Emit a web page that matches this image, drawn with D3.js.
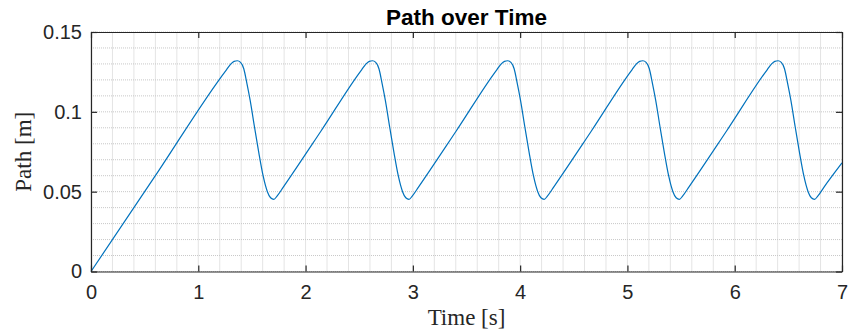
<!DOCTYPE html>
<html>
<head>
<meta charset="utf-8">
<script src="https://cdn.jsdelivr.net/npm/d3@7"></script>
<style>
body{margin:0;background:#fff;}
</style>
</head>
<body>
<svg id="chart" width="863" height="332"></svg>
<script>
// Data
const titleText = "Path over Time";
const xLabel = "Time [s]";
const yLabel = "Path [m]";
const xTicks = [0,1,2,3,4,5,6,7];
const yTicks = [0,0.05,0.1,0.15];
const yTickLabels = ["0","0.05","0.1","0.15"];

const timeS = [
  0,0.600,
  1.264,1.304,1.334,1.364,1.394,1.424,1.454,1.484,1.524,1.564,1.604,1.644,1.674,1.704,1.734,1.794,2.144,
  2.524,2.564,2.594,2.624,2.654,2.684,2.714,2.744,2.784,2.824,2.864,2.904,2.934,2.964,2.994,3.054,3.404,
  3.784,3.824,3.854,3.884,3.914,3.944,3.974,4.004,4.044,4.084,4.124,4.164,4.194,4.224,4.254,4.314,4.664,
  5.044,5.084,5.114,5.144,5.174,5.204,5.234,5.264,5.304,5.344,5.384,5.424,5.454,5.484,5.514,5.574,5.924,
  6.304,6.344,6.374,6.404,6.434,6.464,6.494,6.524,6.564,6.604,6.644,6.684,6.714,6.744,6.774,6.834,
  7.0
];
const pathM = [
  0,0.0600,
  0.1265,0.1300,0.1316,0.1320,0.1310,0.1270,0.1175,0.1070,0.0905,0.0745,0.0600,0.0500,0.0462,0.0452,0.0472,0.0530,0.0880,
  0.1265,0.1300,0.1316,0.1320,0.1310,0.1270,0.1175,0.1070,0.0905,0.0745,0.0600,0.0500,0.0462,0.0452,0.0472,0.0530,0.0880,
  0.1265,0.1300,0.1316,0.1320,0.1310,0.1270,0.1175,0.1070,0.0905,0.0745,0.0600,0.0500,0.0462,0.0452,0.0472,0.0530,0.0880,
  0.1265,0.1300,0.1316,0.1320,0.1310,0.1270,0.1175,0.1070,0.0905,0.0745,0.0600,0.0500,0.0462,0.0452,0.0472,0.0530,0.0880,
  0.1265,0.1300,0.1316,0.1320,0.1310,0.1270,0.1175,0.1070,0.0905,0.0745,0.0600,0.0500,0.0462,0.0452,0.0472,0.0530,
  0.0680
];

const margin = {left:91, right:21, top:32, bottom:60.5};
const W = 863, H = 332;
const svg = d3.select("#chart");
const x = d3.scaleLinear().domain([0,7]).range([margin.left, W-margin.right]);
const y = d3.scaleLinear().domain([0,0.15]).range([H-margin.bottom, margin.top]);

const axisColor = "#262626";
const gridColor = "#c8c8c8";

// minor grid
const xMinor = d3.range(0, 7.0001, 0.2);
const yMinor = d3.range(0, 0.15001, 0.01);
const g = svg.append("g");
g.selectAll("line.xm").data(xMinor).enter().append("line")
  .attr("x1", d=>x(d)).attr("x2", d=>x(d))
  .attr("y1", y(0)).attr("y2", y(0.15))
  .attr("stroke", gridColor).attr("stroke-width",1).attr("stroke-dasharray","1,1");
g.selectAll("line.ym").data(yMinor).enter().append("line")
  .attr("y1", d=>y(d)).attr("y2", d=>y(d))
  .attr("x1", x(0)).attr("x2", x(7))
  .attr("stroke", gridColor).attr("stroke-width",1).attr("stroke-dasharray","1,1");

// line
const pts = timeS.map((t,i)=>[t, pathM[i]]);
svg.append("path").datum(pts)
  .attr("d", d3.line().x(d=>x(d[0])).y(d=>y(d[1])).curve(d3.curveMonotoneX))
  .attr("fill","none").attr("stroke","#0072BD").attr("stroke-width",1.2);

// axes
const tickFont = "'Liberation Sans', Arial, Helvetica, sans-serif";
const xAxis = d3.axisBottom(x).tickValues(xTicks).tickSizeInner(-6).tickSizeOuter(0).tickPadding(13).tickFormat(d3.format("d"));
const yAxis = d3.axisLeft(y).tickValues(yTicks).tickSizeInner(-6).tickSizeOuter(0).tickPadding(9).tickFormat((d,i)=>yTickLabels[i]);
const xTop = d3.axisTop(x).tickValues(xTicks).tickSizeInner(-6).tickSizeOuter(0).tickFormat("");
const yRight = d3.axisRight(y).tickValues(yTicks).tickSizeInner(-6).tickSizeOuter(0).tickFormat("");

function style(sel){
  sel.selectAll("path").attr("stroke", axisColor).attr("stroke-width",1.2);
  sel.selectAll("line").attr("stroke", axisColor).attr("stroke-width",1.2);
  sel.selectAll("text").attr("fill", axisColor).style("font-family", tickFont).style("font-size","20px");
}
svg.append("g").attr("transform",`translate(0,${y(0)})`).call(xAxis).call(style);
svg.append("g").attr("transform",`translate(${x(0)},0)`).call(yAxis).call(style);
svg.append("g").attr("transform",`translate(0,${y(0.15)})`).call(xTop).call(style);
svg.append("g").attr("transform",`translate(${x(7)},0)`).call(yRight).call(style);

// title
svg.append("text").attr("x", (x(0)+x(7))/2).attr("y", 25)
  .attr("text-anchor","middle").style("font-family", tickFont)
  .style("font-weight","bold").style("font-size","22.5px").attr("fill","#000").text(titleText);

const serif = "'Liberation Serif', 'Times New Roman', serif";
svg.append("text").attr("x", (x(0)+x(7))/2).attr("y", 325)
  .attr("text-anchor","middle").style("font-family", serif)
  .style("font-size","23px").attr("fill", axisColor).text(xLabel);
svg.append("text").attr("transform",`translate(31,${(y(0)+y(0.15))/2}) rotate(-90)`)
  .attr("text-anchor","middle").style("font-family", serif)
  .style("font-size","23px").attr("fill", axisColor).text(yLabel);
</script>
</body>
</html>
